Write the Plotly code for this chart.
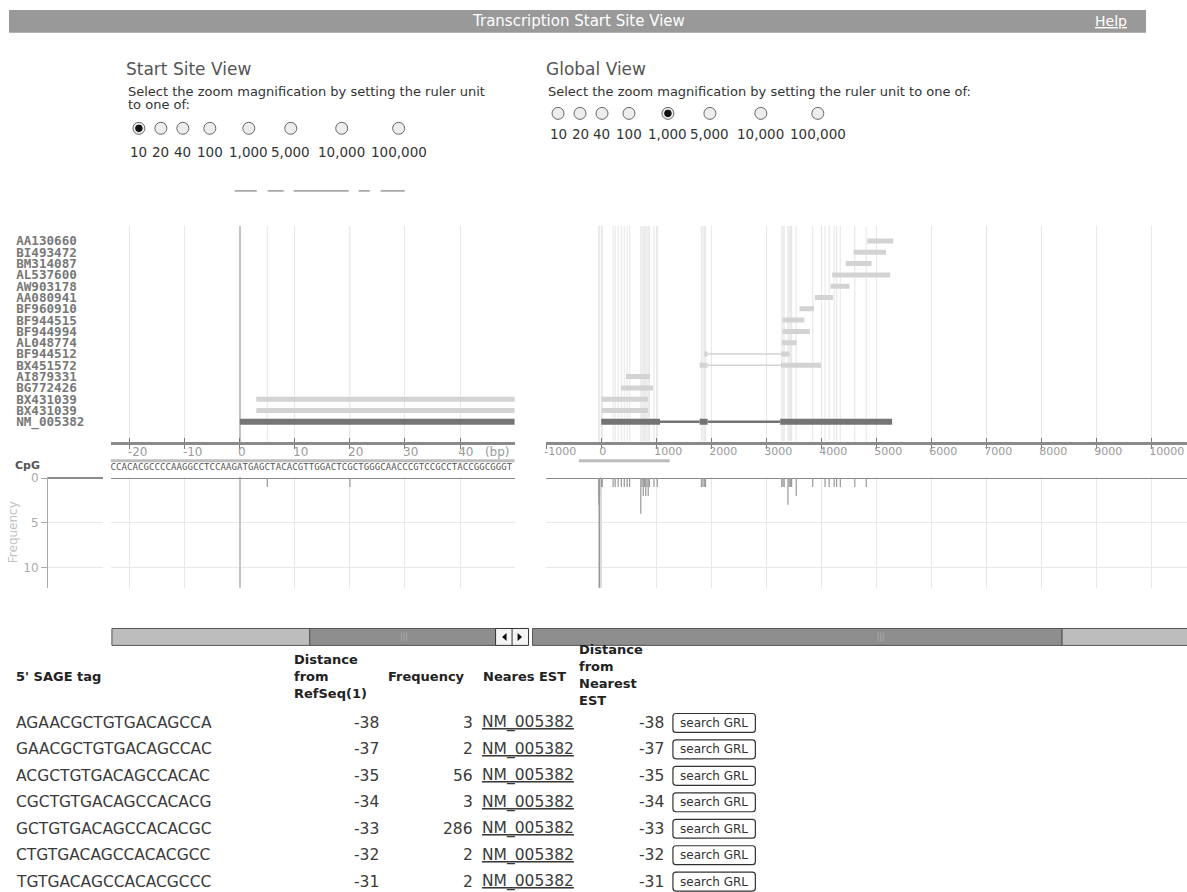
import plotly.graph_objects as go

W, H = 1187, 892

# ---------------- data ----------------
est_names = ["AA130660", "BI493472", "BM314087", "AL537600", "AW903178", "AA080941",
             "BF960910", "BF944515", "BF944994", "AL048774", "BF944512", "BX451572",
             "AI879331", "BG772426", "BX431039", "BX431039", "NM_005382"]
refseq_row = 16
# aligned blocks (row index into est_names, start bp, end bp)
block_row   = [0, 1, 2, 3, 4, 5, 6, 7, 8, 9, 10, 10, 11, 11, 12, 13, 14, 15, 16, 16, 16]
block_start = [4840, 4590, 4445, 4200, 4170, 3885, 3605, 3300, 3300, 3285, 1875, 3270,
               1790, 3270, 450, 360, 3, 3, 0, 1790, 3255]
block_end   = [5310, 5180, 4915, 5255, 4515, 4215, 3870, 3695, 3795, 3555, 1935, 3425,
               1935, 3995, 890, 945, 855, 855, 1070, 1935, 5290]

# 5' SAGE tags listed in the table
sage_tags = ["AGAACGCTGTGACAGCCA", "GAACGCTGTGACAGCCAC", "ACGCTGTGACAGCCACAC",
             "CGCTGTGACAGCCACACG", "GCTGTGACAGCCACACGC", "CTGTGACAGCCACACGCC",
             "TGTGACAGCCACACGCCC"]
sage_dist = [-38, -37, -35, -34, -33, -32, -31]
sage_freq = [3, 2, 56, 3, 286, 2, 2]
sage_est = ["NM_005382"] * 7
sage_est_dist = [-38, -37, -35, -34, -33, -32, -31]

# other mapped tags (position bp, frequency)
other_tag_pos = [5, 20,
                 217, 255, 307, 367, 420, 472, 517,
                 720, 742, 765, 787, 810, 832, 855, 877,
                 960, 1020,
                 1822, 1850, 1875, 1897,
                 3283, 3306, 3328, 3396, 3418, 3440, 3463, 3546,
                 3846, 4071, 4146, 4236, 4281, 4348,
                 4611, 4820]
other_tag_freq = [1, 1,
                  1, 1, 1, 1, 1, 1, 1,
                  4, 1, 2, 1, 2, 1, 2, 1,
                  1, 1,
                  1, 1, 1, 1,
                  1, 1, 1, 3, 1, 1, 1, 2,
                  1, 1, 1, 1, 1, 1,
                  1, 1]

cpg_start, cpg_end = -405, 1245
genomic_seq = "CCACACGCCCCAAGGCCTCCAAGATGAGCTACACGTTGGACTCGCTGGGCAACCCGTCCGCCTACCGGCGGGT"
seq_first_bp = -23

left_ticks = [-20, -10, 0, 10, 20, 30, 40]
right_ticks = [-1000, 0, 1000, 2000, 3000, 4000, 5000, 6000, 7000, 8000, 9000, 10000]
freq_ticks = [0, 5, 10]
zoom_units = ["10", "20", "40", "100", "1,000", "5,000", "10,000", "100,000"]

# ---------------- helpers ----------------
def px(x):
    return x / W


def py(y):
    return 1 - y / H


FONT = "DejaVu Sans"
MONO = "DejaVu Sans Mono"

LX0, LX1 = 110, 514
RX0, RX1 = 545, 1187
TR_T, TR_B = 222, 439
SQ_T, SQ_B = 453, 470
FQ_T, FQ_B = 474.35, 586
ST_X0, ST_X1 = 47, 102

L_RANGE = [(LX0 - 239) / 5.51, (LX1 - 239) / 5.51]
R_RANGE = [(RX0 - 600.7) / 0.05504, (RX1 - 600.7) / 0.05504]
ROW_RANGE = [17.75, -1.35]
FQ_RANGE = [12.26, -0.15]

tag_pos = sage_dist + other_tag_pos
tag_freq = sage_freq + other_tag_freq

LIGHT = "#d3d3d3"
DARK = "#747474"
GRID = "#e8e8e8"

fig = go.Figure()


def add_panel(xa, ya, xseq, yseq, xf, yf, with_seq):
    # tag position guides in track area
    xs, ys = [], []
    for p in tag_pos:
        xs += [p, p, None]
        ys += [ROW_RANGE[1], ROW_RANGE[0], None]
    fig.add_trace(go.Scatter(x=xs, y=ys, mode="lines", line=dict(color="#e9e9e9", width=1.2),
                             xaxis=xa, yaxis=ya, hoverinfo="skip"))
    # intron connectors
    for r in sorted(set(block_row)):
        idx = sorted([i for i in range(len(block_row)) if block_row[i] == r],
                     key=lambda i: block_start[i])
        cx, cy = [], []
        for a, b in zip(idx[:-1], idx[1:]):
            cx += [block_end[a], block_start[b], None]
            cy += [r, r, None]
        if cx:
            dark = r == refseq_row
            fig.add_trace(go.Scatter(x=cx, y=cy, mode="lines",
                                     line=dict(color=DARK if dark else LIGHT, width=2.5 if dark else 1.6),
                                     xaxis=xa, yaxis=ya, hoverinfo="skip"))
    # aligned blocks (light ESTs, dark RefSeq)
    for dark in (False, True):
        bx, by = [], []
        for r, s, e in zip(block_row, block_start, block_end):
            if (r == refseq_row) == dark:
                bx += [s, e, None]
                by += [r, r, None]
        fig.add_trace(go.Scatter(x=bx, y=by, mode="lines",
                                 line=dict(color=DARK if dark else LIGHT, width=6 if dark else 5),
                                 xaxis=xa, yaxis=ya, hoverinfo="skip"))
    # CpG island
    fig.add_trace(go.Scatter(x=[cpg_start, cpg_end], y=[0.68, 0.68], mode="lines",
                             line=dict(color="#bdbdbd", width=3), xaxis=xseq, yaxis=yseq,
                             hoverinfo="skip"))
    if with_seq:
        fig.add_trace(go.Scatter(
            x=[seq_first_bp + i for i in range(len(genomic_seq))], y=[0.3] * len(genomic_seq),
            text=list(genomic_seq), mode="text",
            textfont=dict(family=MONO, size=9, color="#555"),
            xaxis=xseq, yaxis=yseq, hoverinfo="skip"))
    # frequency sticks
    fx, fy = [], []
    for p, f in zip(tag_pos, tag_freq):
        fx += [p, p, None]
        fy += [0, f, None]
    fig.add_trace(go.Scatter(x=fx, y=fy, mode="lines", line=dict(color="#9a9a9a", width=1.2),
                             xaxis=xf, yaxis=yf, hoverinfo="skip"))


add_panel("x", "y", "x3", "y3", "x5", "y5", True)
add_panel("x2", "y2", "x4", "y4", "x6", "y6", False)

# dummy traces to activate helper axes
fig.add_trace(go.Scatter(x=[0.5], y=[0], mode="markers", marker=dict(opacity=0),
                         xaxis="x7", yaxis="y7", hoverinfo="skip"))
fig.add_trace(go.Scatter(x=[0], y=[0], mode="markers", marker=dict(opacity=0),
                         xaxis="x8", yaxis="y", hoverinfo="skip"))
fig.add_trace(go.Scatter(x=[0], y=[0], mode="markers", marker=dict(opacity=0),
                         xaxis="x9", yaxis="y2", hoverinfo="skip"))

axis_line = dict(showline=True, linecolor="#8a8a8a", linewidth=3, ticks="outside", ticklen=4,
                 tickcolor="#7a7a7a", tickwidth=1.3, ticklabelposition="outside right",
                 ticklabeloverflow="allow", ticklabelstandoff=-3, ticklabelshift=-4,
                 showgrid=True, gridcolor=GRID, zeroline=True, fixedrange=True)

left_text = [str(v) for v in left_ticks]
left_text[-1] = left_text[-1] + "\u00a0\u00a0\u00a0(bp)"

fig.update_layout(
    width=W, height=H, margin=dict(l=0, r=0, t=0, b=0),
    paper_bgcolor="white", plot_bgcolor="white", showlegend=False,
    font=dict(family=FONT, color="#333"),
    xaxis=dict(domain=[px(LX0), px(LX1)], range=L_RANGE, anchor="y",
               tickvals=left_ticks, ticktext=left_text,
               tickfont=dict(size=12, color="#9a9a9a"), zerolinecolor="#c4c4c4", zerolinewidth=1.5,
               **axis_line),
    yaxis=dict(domain=[py(TR_B), py(TR_T)], range=ROW_RANGE, anchor="free", position=px(83.5),
               tickvals=list(range(len(est_names))),
               ticktext=["<b>" + n.ljust(9, "\u00a0") + "</b>" for n in est_names],
               tickfont=dict(family=MONO, size=12.6, color="#787878"),
               showgrid=False, zeroline=False, showline=False, ticks="", fixedrange=True),
    xaxis2=dict(domain=[px(RX0), px(RX1)], range=R_RANGE, anchor="y2",
                tickvals=right_ticks, ticktext=[str(v) for v in right_ticks],
                tickfont=dict(size=11, color="#9a9a9a"), zerolinecolor="#dcdcdc", zerolinewidth=1,
                **axis_line),
    yaxis2=dict(domain=[py(TR_B), py(TR_T)], range=ROW_RANGE, anchor="x2", visible=False,
                fixedrange=True),
    xaxis3=dict(domain=[px(LX0), px(LX1)], range=L_RANGE, anchor="y3", visible=False),
    yaxis3=dict(domain=[py(SQ_B), py(SQ_T)], range=[0, 1], anchor="x3", visible=False),
    xaxis4=dict(domain=[px(RX0), px(RX1)], range=R_RANGE, anchor="y4", visible=False),
    yaxis4=dict(domain=[py(SQ_B), py(SQ_T)], range=[0, 1], anchor="x4", visible=False),
    xaxis5=dict(domain=[px(LX0), px(LX1)], range=L_RANGE, anchor="y5", tickvals=left_ticks,
                showticklabels=False, ticks="", showgrid=True, gridcolor=GRID,
                zeroline=True, zerolinecolor="#c4c4c4", zerolinewidth=1.5),
    yaxis5=dict(domain=[py(FQ_B), py(FQ_T)], range=FQ_RANGE, anchor="x5", tickvals=freq_ticks,
                showticklabels=False, ticks="", showgrid=True, gridcolor=GRID,
                zeroline=True, zerolinecolor="#8a8a8a", zerolinewidth=1),
    xaxis6=dict(domain=[px(RX0), px(RX1)], range=R_RANGE, anchor="y6", tickvals=right_ticks,
                showticklabels=False, ticks="", showgrid=True, gridcolor=GRID,
                zeroline=True, zerolinecolor="#dcdcdc"),
    yaxis6=dict(domain=[py(FQ_B), py(FQ_T)], range=FQ_RANGE, anchor="x6", tickvals=freq_ticks,
                showticklabels=False, ticks="", showgrid=True, gridcolor=GRID,
                zeroline=True, zerolinecolor="#8a8a8a", zerolinewidth=1),
    xaxis7=dict(domain=[px(ST_X0), px(ST_X1)], range=[0, 1], anchor="y7", visible=False),
    yaxis7=dict(domain=[py(FQ_B), py(FQ_T)], range=FQ_RANGE, anchor="x7", side="left",
                tickvals=freq_ticks, ticks="outside", ticklen=6, tickcolor="#aaa",
                showline=True, linecolor="#aaa", linewidth=1,
                tickfont=dict(size=12, color="#aaa"), showgrid=True, gridcolor=GRID,
                zeroline=True, zerolinecolor="#8a8a8a",
                title=dict(text="Frequency", font=dict(size=12, color="#c2c2c2"), standoff=3)),
    xaxis8=dict(overlaying="x", range=L_RANGE, anchor="y", tickvals=left_ticks, ticks="inside",
                ticklen=4, tickcolor="#7a7a7a", tickwidth=1.3, showticklabels=False,
                showgrid=False, zeroline=False, showline=False),
    xaxis9=dict(overlaying="x2", range=R_RANGE, anchor="y2", tickvals=right_ticks, ticks="inside",
                ticklen=4, tickcolor="#7a7a7a", tickwidth=1.3, showticklabels=False,
                showgrid=False, zeroline=False, showline=False),
)

shapes = []
ann = []


def text(x, y, s, size=13, color="#333", anchor="left", family=FONT, **kw):
    ann.append(dict(x=px(x), y=py(y), xref="paper", yref="paper", text=s, showarrow=False,
                    xanchor=anchor, yanchor="middle",
                    font=dict(size=size, color=color, family=family), **kw))


def rect(x0, y0, x1, y1, fill, line="rgba(0,0,0,0)", lw=0):
    shapes.append(dict(type="rect", xref="paper", yref="paper", x0=px(x0), x1=px(x1),
                       y0=py(y1), y1=py(y0), fillcolor=fill, line=dict(color=line, width=lw)))


def rounded(x0, y0, x1, y1, r, fill, line, lw):
    p = ("M {a} {b} L {c} {b} Q {d} {b} {d} {e} L {d} {f} Q {d} {g} {c} {g} "
         "L {a} {g} Q {h} {g} {h} {f} L {h} {e} Q {h} {b} {a} {b} Z").format(
        a=px(x0 + r), b=py(y0), c=px(x1 - r), d=px(x1), e=py(y0 + r), f=py(y1 - r),
        g=py(y1), h=px(x0))
    shapes.append(dict(type="path", xref="paper", yref="paper", path=p, fillcolor=fill,
                       line=dict(color=line, width=lw)))


def hline(x0, x1, y, color="#555", lw=1):
    shapes.append(dict(type="line", xref="paper", yref="paper", x0=px(x0), x1=px(x1),
                       y0=py(y), y1=py(y), line=dict(color=color, width=lw)))


def vline(x, y0, y1, color="#555", lw=1):
    shapes.append(dict(type="line", xref="paper", yref="paper", x0=px(x), x1=px(x),
                       y0=py(y0), y1=py(y1), line=dict(color=color, width=lw)))


def circle(cx, cy, r, fill, line="#555", lw=1):
    shapes.append(dict(type="circle", xref="paper", yref="paper", x0=px(cx - r), x1=px(cx + r),
                       y0=py(cy + r), y1=py(cy - r), fillcolor=fill, line=dict(color=line, width=lw)))


# header bar
rect(8, 5, 1146, 28, "#999999")
text(578, 16.5, "Transcription Start Site View", size=15, color="white", anchor="center")
text(1111, 16.5, "<u>Help</u>", size=14, color="white", anchor="center")

# view headings and zoom selectors
text(123, 64, "Start Site View", size=17, color="#555")
text(125, 87, "Select the zoom magnification by setting the ruler unit", size=13)
text(125, 100, "to one of:", size=13)
text(543, 64, "Global View", size=17, color="#555")
text(545, 87, "Select the zoom magnification by setting the ruler unit to one of:", size=13)

unit_offsets = [6, 28, 50, 77, 116, 158, 209, 266]
for base, ry, ly, sel in [(132, 124, 148, 0), (551.5, 109, 130, 4)]:
    for k, (off, lab) in enumerate(zip(unit_offsets, zoom_units)):
        cx = base + off
        circle(cx, ry, 6, "#ededed", "#666")
        if k == sel:
            circle(cx, ry, 3.3, "#111", "#111")
        text(cx, ly, lab, size=13.5, color="#333", anchor="center")

for x0, x1 in [(234, 256), (267, 283), (293, 348), (358, 369), (380, 404)]:
    hline(x0, x1, 187, "#666", 1)

# CpG label
text(12, 463, "<b>CpG</b>", size=11, color="#555")

# scrollbars
SB0, SB1 = 627, 644
rect(111, SB0, 309, SB1, "#bdbdbd", "#555", 1)
rect(309, SB0, 495, SB1, "#8e8e8e", "#555", 1)
for gx in [401, 403.5, 406]:
    vline(gx, SB0 + 4, SB1 - 4, "#a8a8a8", 1)
rect(495, SB0, 528, SB1, "#f4f4f4", "#333", 1)
vline(511.5, SB0, SB1, "#333", 1)
mid = (SB0 + SB1) / 2
shapes.append(dict(type="path", xref="paper", yref="paper",
                   path="M {} {} L {} {} L {} {} Z".format(px(506), py(mid - 4), px(506), py(mid + 4), px(501.5), py(mid)),
                   fillcolor="#111", line=dict(width=0)))
shapes.append(dict(type="path", xref="paper", yref="paper",
                   path="M {} {} L {} {} L {} {} Z".format(px(517), py(mid - 4), px(517), py(mid + 4), px(521.5), py(mid)),
                   fillcolor="#111", line=dict(width=0)))
rect(532, SB0, 1062, SB1, "#8e8e8e", "#555", 1)
rect(1062, SB0, 1190, SB1, "#bdbdbd", "#555", 1)
for gx in [878, 880.5, 883]:
    vline(gx, SB0 + 4, SB1 - 4, "#a8a8a8", 1)

# table header
HB = dict(size=13, color="#222")
text(13, 675, "<b>5' SAGE tag</b>", **HB)
text(291, 675, "<b>Distance<br>from<br>RefSeq(1)</b>", align="left", **HB)
text(385, 675, "<b>Frequency</b>", **HB)
text(480, 675, "<b>Neares EST</b>", **HB)
text(576, 674, "<b>Distance<br>from<br>Nearest<br>EST</b>", align="left", **HB)

# table rows
for i in range(len(sage_tags)):
    y = 722 + i * 26.6
    text(13, y, sage_tags[i], size=15.5, color="#3a3a3a")
    text(380, y, str(sage_dist[i]), size=15.5, color="#3a3a3a", anchor="right")
    text(474.5, y, str(sage_freq[i]), size=15.5, color="#3a3a3a", anchor="right")
    text(479.5, y, "<u>" + sage_est[i] + "</u>", size=15.5, color="#3a3a3a")
    text(666, y, str(sage_est_dist[i]), size=15.5, color="#3a3a3a", anchor="right")
    rounded(672.5, y - 9.5, 755, y + 9.5, 3, "white", "#333", 1.2)
    text(713.7, y, "search GRL", size=12, color="#333", anchor="center")

fig.update_layout(shapes=shapes, annotations=ann)
fig.write_html("out.html", config={"displayModeBar": False},
               post_script="document.body.style.margin='0px';document.body.style.overflow='hidden';")
